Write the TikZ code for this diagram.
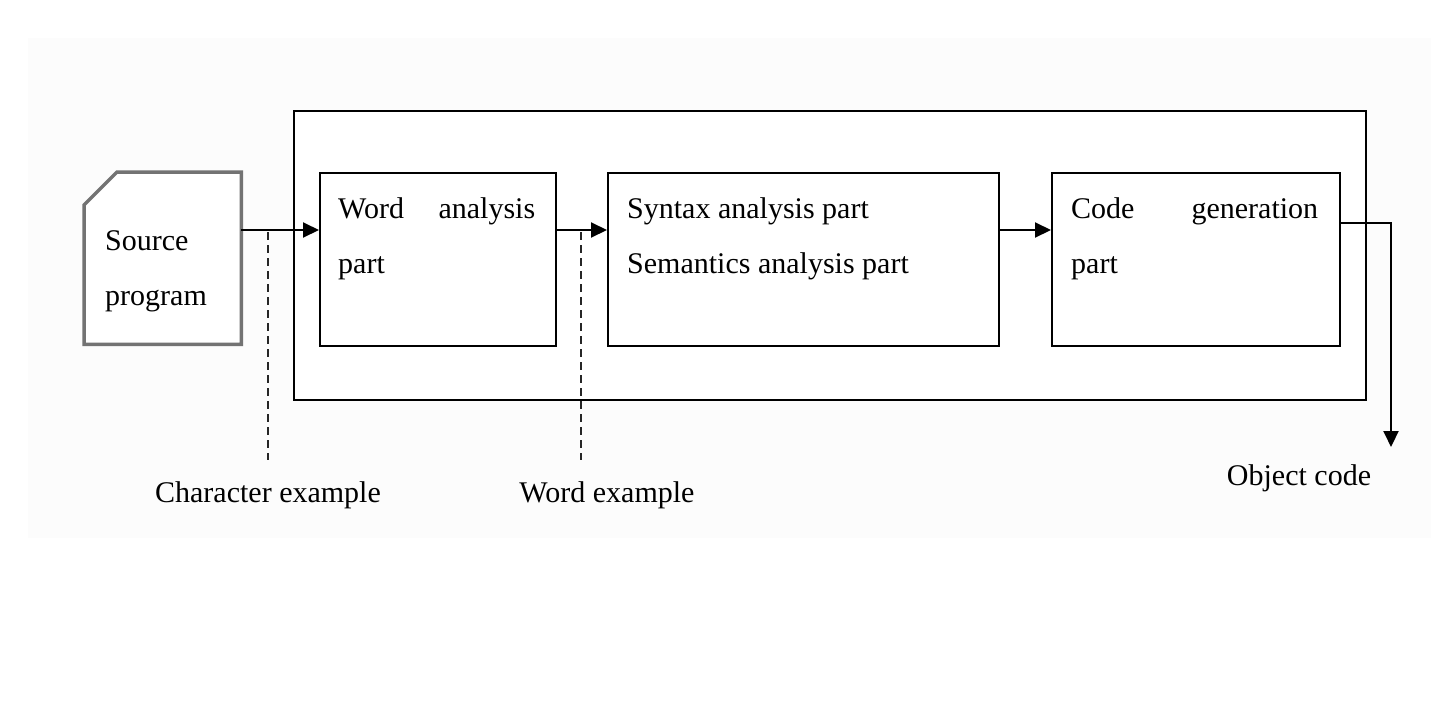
\documentclass[tikz,border=0pt]{standalone}
\usepackage{fontspec}
\setmainfont{Liberation Serif}
\usetikzlibrary{arrows.meta,calc}
\definecolor{bgband}{gray}{0.988}
\definecolor{docgray}{gray}{0.45}
\begin{document}
\begin{tikzpicture}[x=1pt,y=-1pt,
  font=\fontsize{30}{55}\selectfont,
  box/.style={draw=black,fill=white,line width=2pt,inner sep=0,anchor=north west},
  lbl/.style={inner sep=0,anchor=base west},
  flow/.style={line width=2pt,-{Triangle[length=16pt,width=15pt]}},
  guide/.style={line width=1.6pt,dash pattern=on 8pt off 5pt,draw=black!85},
  docline/.style={draw=docgray,fill=white,line width=3.5pt,line join=miter}]
\fill[white] (0,0) rectangle (1431,723);
\useasboundingbox (0,0) rectangle (1431,723);
\fill[bgband] (28,38) rectangle (1431,538);
% boxes
\node[box,minimum width=1072,minimum height=289] (outer) at (293,110) {};
\node[box,minimum width=236,minimum height=173] (word) at (319,172) {};
\node[box,minimum width=391,minimum height=173] (syn) at (607,172) {};
\node[box,minimum width=288,minimum height=173] (code) at (1051,172) {};
% source document
\node[inner sep=0,minimum width=157,minimum height=172,anchor=north west] (src) at (84,172) {};
\draw[docline] (src.south west) -- ($(src.north west)+(0,33)$) -- ($(src.north west)+(33,0)$)
  -- (src.north east) -- (src.south east) -- cycle;
% texts
\node[lbl] (srctxt) at (105,250) {\parbox[t]{130pt}{Source\\program}};
\node[lbl] (wordtxt) at (338,218) {\parbox[t]{197pt}{Word\hfill analysis\\part}};
\node[lbl] (syntxt) at (627,218) {\parbox[t]{340pt}{Syntax analysis part\\Semantics analysis part}};
\node[lbl] (codetxt) at (1071,218) {\parbox[t]{247pt}{Code\hfill generation\\part}};
\node (charlbl) at (268,495) {Character example};
\node (wordlbl) at (607,495) {Word example};
\node (objlbl) at (1299,478) {Object code};
% connectors
\coordinate (row) at (0,230);
\coordinate (outrow) at (0,223);
\coordinate (outend) at (1391,447);
\draw[flow] (src.east |- row) -- (word.west |- row);
\draw[flow] (word.east |- row) -- (syn.west |- row);
\draw[flow] (syn.east |- row) -- (code.west |- row);
\draw[flow] (code.east |- outrow) -| (outend);
% dashed guides
\coordinate (d1top) at (268,232);
\coordinate (d1bot) at (268,460);
\coordinate (d2top) at (581,232);
\coordinate (d2bot) at (581,460);
\draw[guide] (d1top) -- (d1bot);
\draw[guide] (d2top) -- (d2bot);
\end{tikzpicture}
\end{document}
